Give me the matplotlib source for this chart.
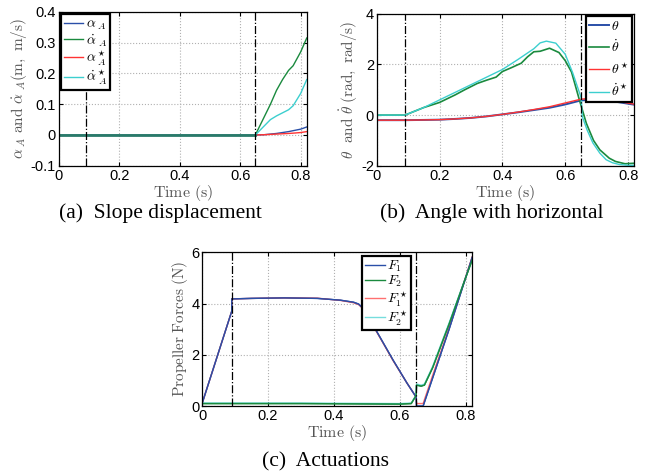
import matplotlib
matplotlib.use("Agg")
import matplotlib.pyplot as plt

plt.rcParams['mathtext.fontset'] = 'cm'
plt.rcParams['font.family'] = 'Liberation Sans'

BLUE = '#2a4fa8'
GREEN = '#1a8a3e'
RED = '#ff3333'
CYAN = '#3ccfcf'
LABEL_GRAY = '#555555'

T_SWITCH = [0.09, 0.65]

# (a) slope displacement
ta = [0, 0.65, 0.68, 0.70, 0.72, 0.74, 0.76, 0.775, 0.80, 0.82]
alpha = [0, 0, 0.001, 0.003, 0.005, 0.008, 0.011, 0.014, 0.019, 0.026]
alpha_dot = [0, 0, 0.06, 0.10, 0.145, 0.18, 0.21, 0.225, 0.27, 0.315]
alpha_s = [0, 0, 0.001, 0.002, 0.003, 0.004, 0.005, 0.006, 0.008, 0.011]
alpha_dot_s = [0, 0, 0.03, 0.05, 0.062, 0.072, 0.082, 0.095, 0.135, 0.18]

# (b) angle with horizontal
tb = [0, 0.09, 0.15, 0.2, 0.25, 0.3, 0.35, 0.4, 0.45, 0.5, 0.55, 0.6,
      0.65, 0.68, 0.72, 0.76, 0.82]
theta = [-0.2, -0.2, -0.19, -0.18, -0.15, -0.11, -0.05, 0.03, 0.11, 0.2,
         0.29, 0.42, 0.58, 0.6, 0.58, 0.53, 0.41]
theta_s = [-0.2, -0.2, -0.19, -0.18, -0.15, -0.11, -0.05, 0.03, 0.12, 0.22,
           0.33, 0.48, 0.63, 0.66, 0.63, 0.56, 0.43]
tbd = [0, 0.09, 0.12, 0.15, 0.2, 0.25, 0.28, 0.32, 0.35, 0.38, 0.40, 0.43,
       0.46, 0.48, 0.50, 0.52, 0.55, 0.58, 0.60, 0.62, 0.645, 0.667, 0.69,
       0.71, 0.74, 0.76, 0.79, 0.82]
theta_dot = [0, 0, 0.15, 0.3, 0.5, 0.8, 1.0, 1.25, 1.38, 1.5, 1.72, 1.88,
             2.05, 2.3, 2.5, 2.52, 2.64, 2.47, 2.15, 1.7, 0.6, -0.32, -1.0,
             -1.37, -1.7, -1.83, -1.92, -1.9]
tbs = [0, 0.09, 0.15, 0.2, 0.25, 0.3, 0.35, 0.4, 0.45, 0.5, 0.52, 0.54,
       0.57, 0.6, 0.624, 0.651, 0.654, 0.67, 0.688, 0.71, 0.73, 0.75, 0.772,
       0.8, 0.82]
theta_dot_s = [0, 0, 0.3, 0.6, 0.9, 1.2, 1.5, 1.8, 2.2, 2.62, 2.85, 2.92,
               2.84, 2.4, 1.66, 0.67, -0.05, -0.6, -1.1, -1.5, -1.76, -1.88,
               -1.95, -1.98, -1.98]

# (c) actuations
tc1 = [0, 0.09, 0.0901, 0.15, 0.25, 0.35, 0.42, 0.46, 0.475, 0.49, 0.54,
       0.58, 0.622, 0.65, 0.651, 0.671, 0.70, 0.75, 0.82]
F1 = [0.1, 3.7, 4.18, 4.2, 4.22, 4.2, 4.13, 4.05, 3.98, 3.8, 2.69, 1.79,
      0.9, 0.35, 0.0, 0.0, 1.1, 3.0, 5.8]
F1_s = [0.1, 3.7, 4.18, 4.2, 4.22, 4.21, 4.12, 4.03, 3.96, 3.78, 2.67, 1.77,
        0.9, 0.35, 0.1, 0.1, 1.2, 3.05, 5.82]
tc2 = [0, 0.3, 0.6, 0.635, 0.65, 0.651, 0.665, 0.675, 0.70, 0.75, 0.80, 0.82]
F2 = [0.1, 0.1, 0.08, 0.1, 0.42, 0.82, 0.78, 0.82, 1.5, 3.2, 5.0, 5.7]
F2_s = [0.12, 0.12, 0.1, 0.12, 0.44, 0.86, 0.82, 0.86, 1.55, 3.25, 5.02, 5.72]


def style_axes(ax, ylim, yticks):
    ax.set_xlim(0, 0.82)
    ax.set_ylim(*ylim)
    ax.set_xticks([0, 0.2, 0.4, 0.6, 0.8])
    ax.set_xticklabels(['0', '0.2', '0.4', '0.6', '0.8'])
    ax.set_yticks(yticks)
    ax.grid(True, color='#b0b0b0', linestyle=':', linewidth=0.8)
    ax.tick_params(direction='in', top=True, right=True, length=3,
                   labelsize=10.5, pad=2)
    for s in ax.spines.values():
        s.set_linewidth(0.9)
    for t in T_SWITCH:
        ax.axvline(t, color='black', linestyle='-.', linewidth=0.9)
    ax.set_xlabel(r'$\mathrm{Time\ (s)}$', fontsize=11.5, color=LABEL_GRAY,
                  labelpad=0)


def legend(ax, spacing=0.0, **kw):
    leg = ax.legend(fontsize=10, fancybox=False, framealpha=1,
                    borderpad=0.2, handlelength=1.4, labelspacing=spacing,
                    handletextpad=0.2, borderaxespad=0.15, **kw)
    leg.get_frame().set_edgecolor('black')
    leg.get_frame().set_linewidth(1.6)


fig = plt.figure(figsize=(6.54, 4.75), dpi=100)

ax1 = fig.add_axes([0.090, 0.651, 0.379, 0.324])
ax1.plot(ta, alpha, color=BLUE, lw=1, label=r'$\alpha_{\ A}$')
ax1.plot(ta, alpha_dot, color=GREEN, lw=1, label=r'$\dot{\alpha}_{\ A}$')
ax1.plot(ta, alpha_s, color=RED, lw=1, label=r'$\alpha^\star_{\ A}$')
ax1.plot(ta, alpha_dot_s, color=CYAN, lw=1, label=r'$\dot{\alpha}^\star_{\ A}$')
ax1.plot([0, 0.65], [0, 0], color='#2a7a6a', lw=2)
style_axes(ax1, (-0.1, 0.4), [-0.1, 0, 0.1, 0.2, 0.3, 0.4])
ax1.set_yticklabels(['-0.1', '0', '0.1', '0.2', '0.3', '0.4'])
ax1.set_ylabel(r'$\alpha_{\ A}\ \mathrm{and}\ \dot{\alpha}_{\ A}\mathrm{(m,\ m/s)}$',
               fontsize=11, color=LABEL_GRAY, labelpad=1)
legend(ax1, loc='upper left')
fig.text(0.246, 0.552, '(a)  Slope displacement', ha='center', va='center',
         family='Liberation Serif', fontsize=15.5)

ax2 = fig.add_axes([0.576, 0.651, 0.394, 0.32])
ax2.plot(tb, theta, color=BLUE, lw=1.4, label=r'$\theta$')
ax2.plot(tbd, theta_dot, color=GREEN, lw=1.2, label=r'$\dot{\theta}$')
ax2.plot(tb, theta_s, color=RED, lw=1, label=r'$\theta^\star$')
ax2.plot(tbs, theta_dot_s, color=CYAN, lw=1, label=r'$\dot{\theta}^\star$')
style_axes(ax2, (-2, 4), [-2, 0, 2, 4])
ax2.set_yticklabels(['-2', '0', '2', '4'])
ax2.set_ylabel(r'$\theta\ \ \mathrm{and}\ \dot{\theta}\ \mathrm{(rad,\ rad/s)}$',
               fontsize=11, color=LABEL_GRAY, labelpad=1)
legend(ax2, spacing=0.45, loc='upper right')
fig.text(0.752, 0.552, '(b)  Angle with horizontal', ha='center', va='center',
         family='Liberation Serif', fontsize=15.5)

ax3 = fig.add_axes([0.309, 0.145, 0.413, 0.324])
ax3.plot(tc1, F1, color=BLUE, lw=1, label=r'$F_1$')
ax3.plot(tc2, F2, color=GREEN, lw=1, label=r'$F_2$')
ax3.plot(tc1, F1_s, color=RED, lw=1, alpha=0.7, label=r'$F_1^\star$')
ax3.plot(tc2, F2_s, color=CYAN, lw=1, alpha=0.7, label=r'$F_2^\star$')
ax3.plot(tc1, F1, color=BLUE, lw=1)
ax3.plot(tc2, F2, color=GREEN, lw=1)
style_axes(ax3, (0, 6), [0, 2, 4, 6])
ax3.set_ylabel(r'$\mathrm{Propeller\ Forces\ (N)}$', fontsize=11,
               color=LABEL_GRAY, labelpad=1)
legend(ax3, loc='upper right', bbox_to_anchor=(0.78, 0.99))
fig.text(0.497, 0.027, '(c)  Actuations', ha='center', va='center',
         family='Liberation Serif', fontsize=15.5)

fig.savefig('out.png', dpi=100)
